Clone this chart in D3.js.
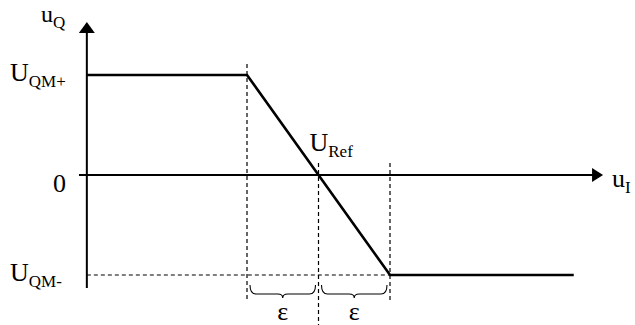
<!DOCTYPE html>
<html><head><meta charset="utf-8">
<script src="https://cdn.jsdelivr.net/npm/d3@7"></script>
<style>html,body{margin:0;padding:0;background:#fff}svg{display:block}text{font-family:"Liberation Serif","Times New Roman",serif;fill:#000}</style>
</head><body>
<script>
// Data (uI in units of epsilon around URef, uQ normalised to UQM)
const curveUI = [-3.24, -1, 1, 3.57];
const curveUQ = [1, 1, -1, -1];
const levelValues = [1, 0, -1];
const levelMain = ["U", "0", "U"];
const levelSub = ["QM+", "", "QM-"];
const guideUI = [-1, 0, 1];
const braceRanges = [[-1, 0], [0, 1]];
const braceLabels = ["ε", "ε"];

const W = 635, H = 325;
const x = d3.scaleLinear().domain([-1, 1]).range([247, 390]);
const y = d3.scaleLinear().domain([-1, 1]).range([275, 75]);
const svg = d3.select("body").append("svg").attr("width", W).attr("height", H);

const x0 = x(curveUI[0]);
// dashed guides
const dash = svg.append("g").attr("stroke", "#000").attr("stroke-width", 1.2).attr("stroke-dasharray", "4,3").attr("fill", "none");
dash.append("line").attr("x1", x0).attr("x2", x(1)).attr("y1", y(-1)).attr("y2", y(-1));
const guideTop = [1.11, 0.12, 0.12], guideBot = [-1.27, -1.5, -1.25];
guideUI.forEach((g, i) => {
  dash.append("line").attr("x1", x(g)).attr("x2", x(g)).attr("y1", y(guideTop[i])).attr("y2", y(guideBot[i]));
});

// axes
const ax = svg.append("g").attr("stroke", "#000").attr("stroke-width", 2);
ax.append("line").attr("x1", x0).attr("x2", x0).attr("y1", y(1.42)).attr("y2", y(-1.13));
ax.append("line").attr("x1", x(-3.35)).attr("x2", x(3.84)).attr("y1", y(0)).attr("y2", y(0));
// arrowheads
const tipY = y(1.53), tipX = x(3.98);
svg.append("path").attr("d", `M${x0},${tipY} L${x0-8},${tipY+11} L${x0+8},${tipY+11} Z`).attr("fill", "#000");
svg.append("path").attr("d", `M${tipX},${y(0)} L${tipX-11},${y(0)-7} L${tipX-11},${y(0)+7} Z`).attr("fill", "#000");

// curve
svg.append("path")
  .datum(curveUI.map((u, i) => [u, curveUQ[i]]))
  .attr("d", d3.line().x(d => x(d[0])).y(d => y(d[1])))
  .attr("fill", "none").attr("stroke", "#000").attr("stroke-width", 2.6);

// braces
function brace(xa, xb, yt) {
  const xm = (xa + xb) / 2, ym = yt + 9, yl = yt + 13;
  return `M${xa},${yt} Q${xa},${ym} ${xa+6},${ym} L${xm-5},${ym} Q${xm},${ym} ${xm},${yl} Q${xm},${ym} ${xm+5},${ym} L${xb-6},${ym} Q${xb},${ym} ${xb},${yt}`;
}
braceRanges.forEach((r, i) => {
  const xa = x(r[0]) + 3, xb = x(r[1]) - 3;
  svg.append("path").attr("d", brace(xa, xb, 285)).attr("fill", "none").attr("stroke", "#000").attr("stroke-width", 1.1);
  svg.append("text").attr("x", (xa + xb) / 2).attr("y", 320).attr("text-anchor", "middle").attr("font-size", 26).text(braceLabels[i]);
});

// level labels
levelValues.forEach((v, i) => {
  const t = svg.append("text").attr("y", y(v) + (v === 0 ? 17 : 6)).attr("x", v === 0 ? 53 : 10).attr("font-size", 26);
  t.append("tspan").text(levelMain[i]);
  if (levelSub[i]) t.append("tspan").attr("font-size", 17).attr("dy", 6).text(levelSub[i]);
});

// URef
const ur = svg.append("text").attr("x", x(0) - 9).attr("y", 151).attr("font-size", 26);
ur.append("tspan").text("U");
ur.append("tspan").attr("font-size", 17).attr("dy", 6).text("Ref");

// axis labels
const uq = svg.append("text").attr("x", 41).attr("y", 22).attr("font-size", 24);
uq.append("tspan").text("u");
uq.append("tspan").attr("font-size", 17).attr("dy", 6).text("Q");
const ui = svg.append("text").attr("x", 612).attr("y", 187).attr("font-size", 26);
ui.append("tspan").text("u");
ui.append("tspan").attr("font-size", 17).attr("dy", 6).text("I");
</script>
</body></html>
